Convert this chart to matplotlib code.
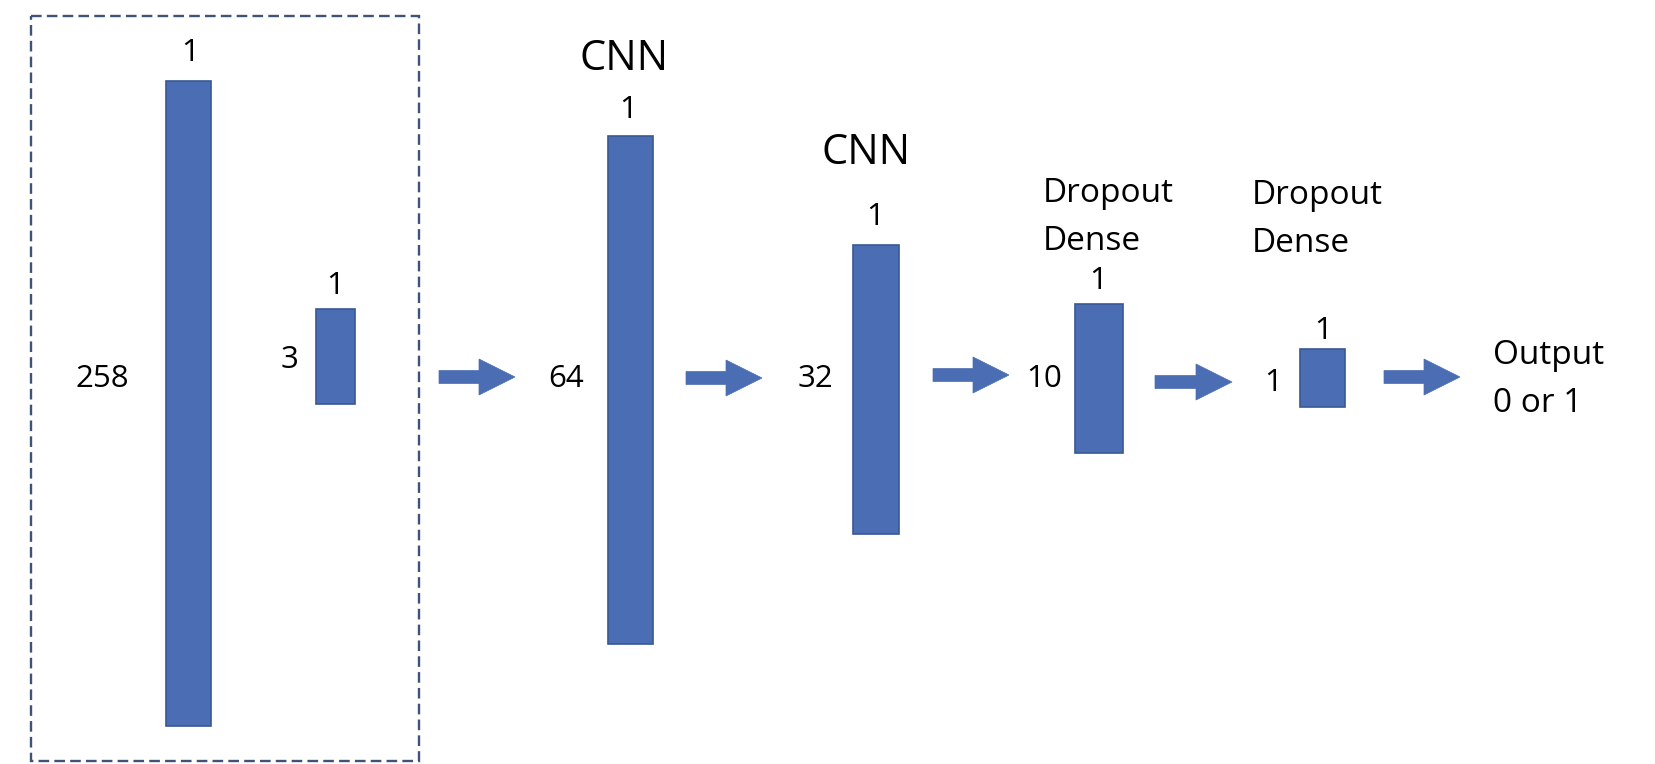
"""
Network architecture sketch: input block, two CNN layers, two dropout/dense layers.
"""

import matplotlib

matplotlib.use("Agg")
import matplotlib.pyplot as plt
from matplotlib.patches import FancyArrow, Rectangle

plt.rcParams["font.family"] = ["Open Sans", "DejaVu Sans"]

# layer data
layer_sizes = ["258", "3", "64", "32", "10", "1"]
layer_widths = ["1", "1", "1", "1", "1", "1"]
layer_titles = ["", "", "CNN", "CNN", "Dropout\nDense", "Dropout\nDense"]
output_text = "Output\n0 or 1"

# geometry in pixel units (x0, x1, y0, y1)
bar_x0 = [166, 316, 608, 853, 1075, 1300]
bar_x1 = [211, 355, 653, 899, 1123, 1345]
bar_y0 = [81, 309, 136, 245, 304, 349]
bar_y1 = [726, 404, 644, 534, 453, 407]
size_xy = [(102, 379), (290, 360), (566, 379), (815, 379), (1044, 379), (1273, 383)]
width_xy = [(190, 53), (335, 286), (628, 110), (875, 217), (1098, 281), (1323, 331)]
arrow_x0 = [439, 686, 933, 1155, 1384]
arrow_x1 = [515, 762, 1009, 1232, 1460]
arrow_y = [377, 378, 375, 382, 377]

BAR_FILL = "#4A6DB4"
BAR_EDGE = "#3A5894"

fig = plt.figure(figsize=(16.55, 7.64), dpi=100)
ax = fig.add_axes([0, 0, 1, 1])
ax.set_xlim(0, 1655)
ax.set_ylim(764, 0)
ax.axis("off")

# dashed input block
ax.add_patch(Rectangle((31, 16), 388, 745, fill=False, edgecolor="#3E5378",
                       linewidth=1.7, linestyle=(0, (4.5, 2.2))))

for i in range(len(layer_sizes)):
    ax.add_patch(Rectangle((bar_x0[i], bar_y0[i]), bar_x1[i] - bar_x0[i], bar_y1[i] - bar_y0[i],
                           facecolor=BAR_FILL, edgecolor=BAR_EDGE, linewidth=1.2))
    ax.text(*size_xy[i], layer_sizes[i], fontsize=22.5, ha="center", va="center")
    ax.text(*width_xy[i], layer_widths[i], fontsize=22.5, ha="center", va="center")

ax.text(624, 59, layer_titles[2], fontsize=30, ha="center", va="center")
ax.text(866, 153, layer_titles[3], fontsize=30, ha="center", va="center")
ax.text(1043, 218, layer_titles[4], fontsize=24, ha="left", va="center", linespacing=1.6)
ax.text(1252, 220, layer_titles[5], fontsize=24, ha="left", va="center", linespacing=1.6)
ax.text(1493, 380, output_text, fontsize=24, ha="left", va="center", linespacing=1.6)

for x0, x1, y in zip(arrow_x0, arrow_x1, arrow_y):
    ax.add_patch(FancyArrow(x0, y, x1 - x0, 0, width=13, head_width=36, head_length=36,
                            length_includes_head=True, facecolor=BAR_FILL, edgecolor=BAR_FILL,
                            linewidth=0.5))

fig.savefig("out.png", dpi=100)
plt.close(fig)
